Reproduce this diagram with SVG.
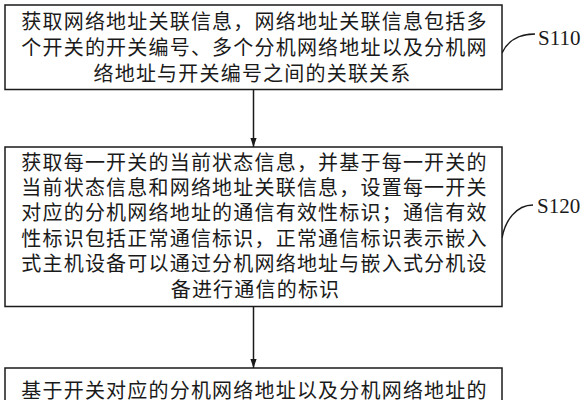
<svg xmlns="http://www.w3.org/2000/svg" width="588" height="400" viewBox="0 0 588 400">
<style>
.box{fill:#fff;stroke:#1a1a1a;stroke-width:1.5}
.t{font-family:"Noto Sans CJK SC","Noto Sans CJK JP",sans-serif;font-size:20px;letter-spacing:1.2px;fill:#1a1a1a;text-anchor:middle}
.lbl{font-family:"Liberation Serif","Times New Roman",serif;font-size:21px;fill:#1a1a1a}
.conn{stroke:#1a1a1a;stroke-width:1.5;fill:none}
</style>
<defs>
<marker id="ah" markerUnits="userSpaceOnUse" markerWidth="10" markerHeight="14" refX="13" refY="4.5" orient="auto" viewBox="0 0 14 9">
<polygon points="0,0 13,4.5 0,9" fill="#1a1a1a"/>
</marker>
</defs>
<rect width="588" height="400" fill="#fff"/>
<g id="connectors">
<line class="conn" x1="253.5" y1="89.5" x2="253.5" y2="147" marker-end="url(#ah)"/>
<line class="conn" x1="253.5" y1="306.5" x2="253.5" y2="368" marker-end="url(#ah)"/>
<path class="conn" d="M502,53 C507,42 518,34 535,34"/>
<path class="conn" d="M502,238 C505,221 516,205 533,205"/>
</g>
<g id="s110">
<rect class="box" x="5" y="5" width="497" height="84.5"/>
<text class="t" x="254.5" y="29">获取网络地址关联信息，网络地址关联信息包括多</text>
<text class="t" x="254.5" y="55">个开关的开关编号、多个分机网络地址以及分机网</text>
<text class="t" x="252.5" y="81">络地址与开关编号之间的关联关系</text>
<text class="lbl" x="538" y="45">S110</text>
</g>
<g id="s120">
<rect class="box" x="5" y="147" width="497" height="159.5"/>
<text class="t" x="254.5" y="170.3">获取每一开关的当前状态信息，并基于每一开关的</text>
<text class="t" x="254.5" y="195.3">当前状态信息和网络地址关联信息，设置每一开关</text>
<text class="t" x="254.5" y="220.3">对应的分机网络地址的通信有效性标识；通信有效</text>
<text class="t" x="254.5" y="245.8">性标识包括正常通信标识，正常通信标识表示嵌入</text>
<text class="t" x="254.5" y="271.3">式主机设备可以通过分机网络地址与嵌入式分机设</text>
<text class="t" x="255.5" y="296.8">备进行通信的标识</text>
<text class="lbl" x="537" y="213">S120</text>
</g>
<g id="s130">
<rect class="box" x="5" y="368" width="497" height="60"/>
<text class="t" x="254.5" y="398">基于开关对应的分机网络地址以及分机网络地址的</text>
</g>
</svg>
